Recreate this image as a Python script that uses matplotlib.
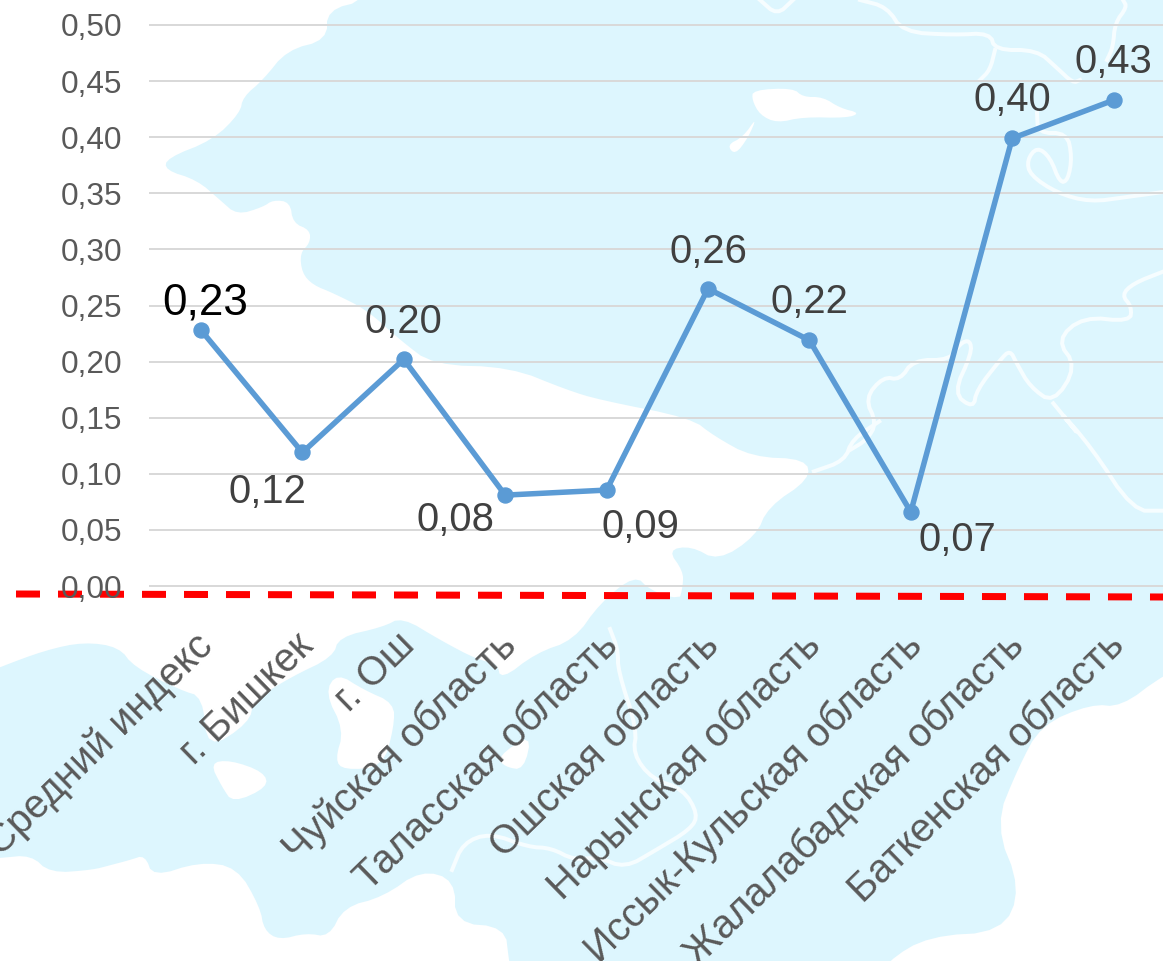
import matplotlib
matplotlib.use("Agg")
import matplotlib.pyplot as plt
from matplotlib.patches import Polygon

categories = ["Средний индекс", "г. Бишкек", "г. Ош", "Чуйская область", "Таласская область",
              "Ошская область", "Нарынская область", "Иссык-Кульская область",
              "Жалалабадская область", "Баткенская область"]
values = [0.228, 0.119, 0.202, 0.081, 0.0855, 0.265, 0.219, 0.066, 0.399, 0.433]
value_labels = ["0,23", "0,12", "0,20", "0,08", "0,09", "0,26", "0,22", "0,07", "0,40", "0,43"]
y_ticks = [0.00, 0.05, 0.10, 0.15, 0.20, 0.25, 0.30, 0.35, 0.40, 0.45, 0.50]

# styling / layout (pixels)
W, H = 1163, 961
label_offsets = [(4, -27), (-35, 40), (0, -37), (-50, 25), (34, 37), (0, -37), (0, -38), (47, 28), (0, -38), (0, -38)]
label_colors = ["#000000"] + ["#404040"] * 9
label_sizes = [44] + [40] * 9
BLUE = "#DDF6FE"

# decorative background map (pixel outlines)
upper_land = [(367,0),(327,10),(327,40),(287,50),(263,80),(243,97),(240,113),(213,140),(167,158),(165,170),
    (197,180),(220,200),(237,215),(263,207),(273,200),(290,202),(293,223),(310,230),(310,243),(300,253),
    (302,273),(313,285),(333,293),(367,310),(400,340),(433,365),(510,367),(567,390),(600,400),(691,418),
    (714,436),(752,457),(806,459),(810,479),(768,507),(756,536),(718,561),(691,546),(668,550),(683,571),
    (683,586),(678,605),(700,640),(1500,640),(1500,-300),(400,-300),(385,-60)]
lower_land = [(-30,680),(0,667),(46,650),(84,642),(119,647),(134,667),(180,690),(203,697),(207,750),(249,723),(254,700),
    (291,677),(333,657),(339,637),(383,627),(402,617),(440,640),(478,660),(497,663),(501,680),(536,653),
    (574,640),(600,603),(635,575),(650,590),(678,600),(700,585),(1400,585),(1400,560),(1240,635),(1163,675),(1121,707),(1091,704),(1041,725),
    (1018,768),(995,825),(1021,889),(1002,932),(929,936),(887,961),(860,1000),(515,1000),(509,961),(505,927),(455,923),(455,880),
    (421,870),(383,897),(344,907),(329,937),(306,933),(279,940),(264,930),(260,907),(237,867),(199,862),
    (153,877),(145,855),(130,860),(111,865),(92,870),(50,873),(31,855),(0,858),(-30,860)]
white_shapes = [
    [(210,763),(230,760),(264,772),(268,787),(233,803),(222,787)],
    [(337,673),(325,693),(344,730),(335,760),(344,770),(383,767),(394,727),(394,703),(364,690)],
    [(532,733),(524,770),(505,767),(497,757)],
    [(753,90),(793,88),(803,97),(823,97),(840,108),(860,113),(847,118),(803,117),(777,123),(760,115),(752,100)],
    [(757,117),(743,137),(727,145),(735,155),(748,138)],
]
z4 = lambda pts: [(660 + x / 3, y / 3) for x, y in pts]
z2 = lambda pts: [(560 + x / 2.6, 400 + y / 2.8) for x, y in pts]
borders = [
    [(760,0),(777,15),(793,0)],
    [(860,0),(887,7),(903,32),(953,35),(990,33),(995,50),(1037,50),(1057,68),(1073,83),(1080,80)],
    [(995,50),(990,70),(980,80)],
    [(1123,0),(1127,7),(1115,23),(1113,47),(1107,60)],
    [(1037,113),(1038,133),(1067,133),(1072,157),(1068,180),(1060,183),(1050,157),(1037,147),(1027,160),(1030,175),
     (1057,193),(1090,202),(1127,197),(1163,192)],
    z4([(1509,815),(1420,850),(1385,885),(1415,920),(1410,965),(1270,950),(1190,1020),(1250,1100),(1180,1210),
        (1110,1160),(1070,1090),(1050,1050),(1020,1080),(950,1170),(940,1225),(880,1180),(935,1060),(930,1020),
        (900,1030),(870,1080),(760,1080),(720,1140),(670,1130),(615,1195),(650,1270),(620,1320),(570,1350)]),
    z2([(830,60),(760,110),(740,170),(660,200)]),
    z4([(1180,1210),(1270,1320)]) + z2([(1290,20),(1380,130),(1490,310),(1568,310)]),
    [(452,870),(463,843),(490,833),(528,847),(551,848),(574,860),(598,857),(625,868),(656,850),(691,829),(698,814),
     (683,789),(652,779),(633,754),(637,729),(618,671),(618,650),(610,629)],
]


def soften(pts, closed=True, rounds=2):
    """Round the corners of a hand-traced decorative outline."""
    for _ in range(rounds):
        out = []
        n = len(pts)
        if not closed:
            out.append(pts[0])
        for i in range(n if closed else n - 1):
            a, b = pts[i], pts[(i + 1) % n]
            out.append((0.75 * a[0] + 0.25 * b[0], 0.75 * a[1] + 0.25 * b[1]))
            out.append((0.25 * a[0] + 0.75 * b[0], 0.25 * a[1] + 0.75 * b[1]))
        if not closed:
            out.append(pts[-1])
        pts = out
    return pts


plt.rcParams["font.family"] = ["Liberation Sans", "DejaVu Sans"]
px = 72 / 100
fig = plt.figure(figsize=(W / 100, H / 100), dpi=100, facecolor="white")

bg = fig.add_axes([0, 0, 1, 1], zorder=0)
bg.set_xlim(0, W); bg.set_ylim(H, 0); bg.axis("off")
bg.add_patch(Polygon(soften(upper_land), closed=True, fc=BLUE, ec="none"))
bg.add_patch(Polygon(soften(lower_land), closed=True, fc=BLUE, ec="none"))
for s in white_shapes:
    bg.add_patch(Polygon(soften(s), closed=True, fc="white", ec="none"))
for b in borders:
    bg.plot(*zip(*soften(b, closed=False)), color="#F6FDFF", lw=4 * px, solid_joinstyle="round")

left, right, top, bottom = 150, 1163, 25, 586
ax = fig.add_axes([left / W, 1 - bottom / H, (right - left) / W, (bottom - top) / H], zorder=1)
ax.patch.set_alpha(0)
x = list(range(len(categories)))
ax.set_xlim((left - 201) / 101.4, (right - 201) / 101.4)
ax.set_ylim(0, 0.5)
ax.set_yticks(y_ticks)
ax.set_yticklabels([f"{t:.2f}".replace(".", ",") for t in y_ticks], fontsize=31.5 * px, color="#595959")
ax.set_xticks(x)
ax.set_xticklabels([])
for xi, cat in zip(x, categories):
    ax.annotate(cat, (xi, 0), xycoords=ax.get_xaxis_transform(), xytext=(-8 * px, -40 * px),
                textcoords="offset points", rotation=44.3, ha="right", va="top", rotation_mode="anchor",
                fontsize=39.7 * px, color="#595959", annotation_clip=False)
ax.tick_params(axis="both", length=0)
ax.tick_params(axis="y", pad=27.5 * px)
for sp in ax.spines.values():
    sp.set_visible(False)
ax.grid(axis="y", color="#D9D9D9", lw=2 * px)
ax.set_axisbelow(True)
for g in ax.get_ygridlines():
    g.set_clip_on(False)

ax.plot(x, values, color="#5B9BD5", lw=5.5 * px, marker="o", ms=15 * px, clip_on=False, zorder=3,
        solid_joinstyle="round")
for xi, v, lab, off, c, s in zip(x, values, value_labels, label_offsets, label_colors, label_sizes):
    ax.annotate(lab, (xi, v), xytext=(off[0] * px, -off[1] * px), textcoords="offset points",
                ha="center", va="center", fontsize=s * px, color=c, zorder=4)

# red dashed reference line, slightly tilted as in the source
top_ax = fig.add_axes([0, 0, 1, 1], zorder=0.5)
top_ax.set_xlim(0, W); top_ax.set_ylim(H, 0); top_ax.axis("off")
top_ax.plot([16, 1163], [594, 597], color="#FF0000", lw=7 * px, dashes=(24 / 7, 18 / 7), dash_capstyle="butt")

fig.savefig("out.png", dpi=100)
